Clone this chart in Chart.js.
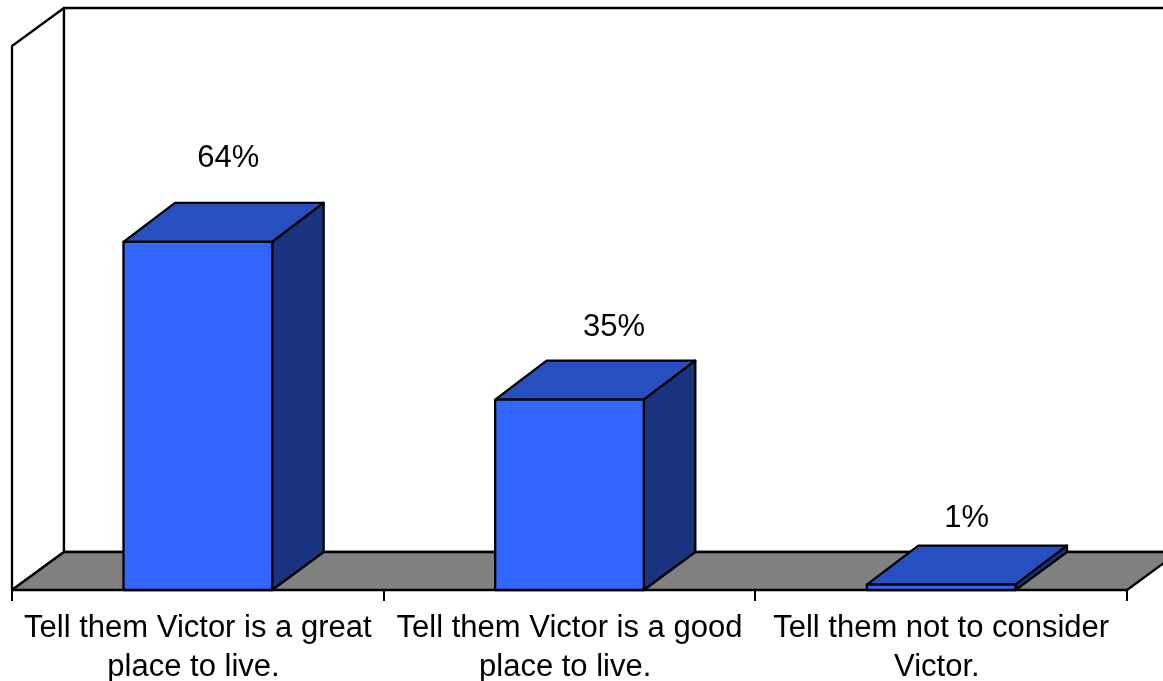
<!DOCTYPE html>
<html>
<head>
<meta charset="utf-8">
<style>html,body{margin:0;padding:0;background:#fff;overflow:hidden}canvas{display:block}</style>
<script src="https://cdn.jsdelivr.net/npm/chart.js@4"></script>
</head>
<body>
<canvas id="c" width="1163" height="681"></canvas>
<script>
const categories = [
  ["Tell them Victor is a great", "place to live. "],
  ["Tell them Victor is a good", "place to live. "],
  ["Tell them not to consider", "Victor. "]
];
const percentValues = [64, 35, 1];
const valueLabels = ["64%", "35%", "1%"];

const DEPTH_X = 52, DEPTH_Y = 38, BAR_DEPTH_X = 51.5, BAR_DEPTH_Y = 39;
const labelShiftX = [30.5, 44.5, 25.5];
const labelLiftY = [83, 72, 66];
const FONT = '"Liberation Sans", Arial, sans-serif';
const LINE = 2.3;

function poly(ctx, pts, fill) {
  ctx.beginPath();
  pts.forEach((p, i) => i ? ctx.lineTo(p[0], p[1]) : ctx.moveTo(p[0], p[1]));
  ctx.closePath();
  if (fill) { ctx.fillStyle = fill; ctx.fill(); }
  ctx.stroke();
}

const box3d = {
  id: 'box3d',
  beforeDatasetsDraw(chart) {
    const { ctx, chartArea: a } = chart;
    ctx.save();
    ctx.strokeStyle = '#000';
    ctx.lineWidth = LINE;
    ctx.lineJoin = 'round';
    const bl = [a.left + DEPTH_X, a.bottom - DEPTH_Y];
    const tl = [a.left + DEPTH_X, a.top - DEPTH_Y];
    const tr = [a.right + DEPTH_X, a.top - DEPTH_Y];
    const br = [a.right + DEPTH_X, a.bottom - DEPTH_Y];
    // side wall, back wall, floor
    poly(ctx, [[a.left, a.bottom], [a.left, a.top], tl, bl], '#fff');
    poly(ctx, [bl, tl, tr, br], '#fff');
    poly(ctx, [[a.left, a.bottom], bl, br, [a.right, a.bottom]], '#808080');
    // upper and side faces of the bars
    chart.getDatasetMeta(0).data.forEach(bar => {
      const half = bar.width / 2;
      const l = bar.x - half, r = bar.x + half, t = bar.y, b = bar.base;
      poly(ctx, [[l, t], [l + BAR_DEPTH_X, t - BAR_DEPTH_Y], [r + BAR_DEPTH_X, t - BAR_DEPTH_Y], [r, t]], '#264fbf');
      poly(ctx, [[r, t], [r + BAR_DEPTH_X, t - BAR_DEPTH_Y], [r + BAR_DEPTH_X, b - DEPTH_Y], [r, b]], '#1a337f');
    });
    ctx.restore();
  },
  afterDatasetsDraw(chart) {
    const { ctx } = chart;
    ctx.save();
    // outline of the front faces, centred on their edges
    ctx.strokeStyle = '#000';
    ctx.lineWidth = LINE;
    ctx.lineJoin = 'round';
    chart.getDatasetMeta(0).data.forEach(bar => {
      const half = bar.width / 2;
      poly(ctx, [[bar.x - half, bar.y], [bar.x + half, bar.y], [bar.x + half, bar.base], [bar.x - half, bar.base]]);
    });
    ctx.fillStyle = '#000';
    ctx.font = '31px ' + FONT;
    ctx.textAlign = 'center';
    ctx.textBaseline = 'middle';
    chart.getDatasetMeta(0).data.forEach((bar, i) => {
      ctx.fillText(valueLabels[i], bar.x + labelShiftX[i], bar.y - labelLiftY[i]);
    });
    ctx.restore();
  }
};

new Chart(document.getElementById('c'), {
  type: 'bar',
  data: {
    labels: categories,
    datasets: [{
      data: percentValues,
      backgroundColor: '#3366ff',
      borderWidth: 0,
      barPercentage: 0.4,
      categoryPercentage: 1
    }]
  },
  options: {
    responsive: false,
    animation: false,
    events: [],
    layout: { padding: { left: 12, right: 36, top: 46, bottom: 0 } },
    plugins: { legend: { display: false }, tooltip: { enabled: false }, title: { display: false } },
    scales: {
      y: { display: false, min: 0, max: 100 },
      x: {
        offset: true,
        afterFit(scale) { scale.height = 91; },
        border: { display: false },
        grid: { offset: true, drawOnChartArea: false, drawTicks: true, tickLength: 11, color: '#000', lineWidth: 2 },
        ticks: {
          autoSkip: false, maxRotation: 0, minRotation: 0, padding: 8,
          color: '#000',
          font: { family: FONT, size: 31, lineHeight: 1.26 }
        }
      }
    }
  },
  plugins: [box3d]
});
</script>
</body>
</html>
